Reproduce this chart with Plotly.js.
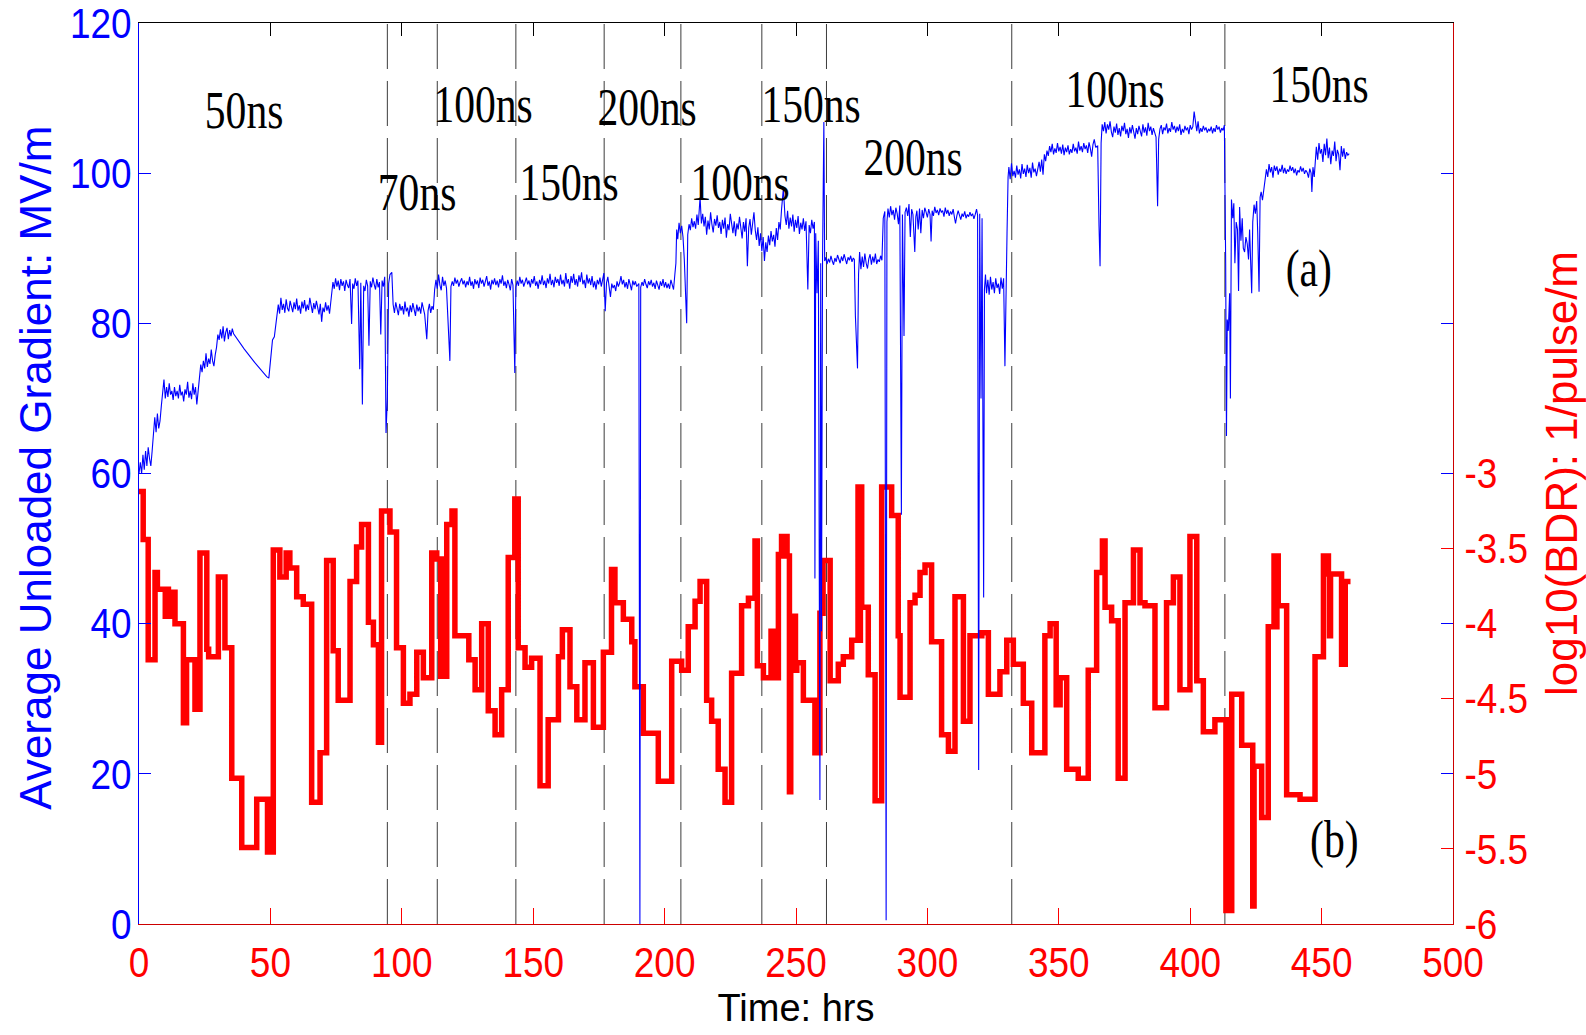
<!DOCTYPE html>
<html><head><meta charset="utf-8">
<script src="https://cdn.plot.ly/plotly-3.0.1.min.js"></script>
<style>
html,body{margin:0;padding:0;background:#fff;}
#chart{width:1586px;height:1035px;}
</style></head><body><div id="chart"></div><script>
// [time (hrs), average unloaded gradient (MV/m)]
const gradientSamples = [
[0,60],[0.5,61.5],[1,60],[1.5,62.5],[2,60.5],[2.5,63],[3,61],[3.5,63.5],[4,62],[4.5,61],[5,63],[5.5,66],[6,67.5],[6.5,65.5],[7,68],[7.5,66],[8,67],[8.5,69],[9,70.5],
[9.5,72.5],[10,70],[10.5,71.5],[11,70.2],[11.5,72],[12,70.5],[12.5,71],[13,69.8],[13.5,71.5],[14,70.3],[14.5,71],[15,70],[15.5,71.8],[16,70.4],[16.5,70.9],[17,69.6],[17.5,71.2],[18,70.5],[18.5,72.2],[19,70.1],[19.5,71],[20,69.9],[20.5,72],[21,70.5],[21.5,71.5],[22,69.2],[22.5,70.8],[23,72.8],
[23.5,74.5],[24,73.5],[24.5,75],[25,74],[25.5,76],[26,74.2],[26.5,75.3],[27,74.6],[27.5,76.5],[28,75],[28.5,74.3],[29,75.8],[29.5,76.8],[30,78.5],
[30.5,77.8],[31,79.2],[31.5,78],[32,79.6],[32.5,77.6],[33,78.8],[33.5,79.4],[34,77.9],[34.5,79.1],[35,78.3],[35.5,79.3],[36,78.6],
[40,76.6],[44,74.8],[47,73.5],[48.6,72.9],[49.4,72.7],[50.3,76.5],[50.8,77.8],[51.5,78.2],[52.2,80],[52.6,81],
[53,82.5],[53.5,81.3],[54,83.4],[54.5,81.8],[55,82.6],[55.5,81.4],[56,83.2],[56.5,82],[57,81.6],[57.5,83],[58,82.1],[58.5,81.5],[59,82.8],[59.5,81.9],[60,83.3],[60.5,81.7],[61,82.4],[61.5,81.3],[62,82.9],[62.5,82],[63,83.1],[63.5,81.6],[64,82.5],[64.5,81.8],[65,83.4],[65.5,82.2],[66,81.4],[66.5,82.7],[67,81.9],[67.5,83],[68,82.3],[68.5,81.2],[69,82.6],[69.5,80.2],[70,82.1],[70.5,81.5],[71,82.8],[71.5,81.7],[72,82.4],[72.5,81.3],[73,82.9],
[73.8,85.5],[74.3,84.6],[74.8,86],[75.3,84.9],[75.8,85.7],[76.3,84.4],[76.8,85.9],[77.3,85],[77.8,85.6],[78.3,84.3],[78.8,85.8],[79.3,85.1],[79.8,84.7],[80.3,85.9],[80.9,79.9],[81.3,85.3],[81.8,84.6],[82.3,86],[82.8,85],[83.3,85.7],[84,73.9],[84.4,85.4],[85,69.2],[85.5,85],[86,84.3],[86.5,85.8],[87,85],[87.5,77],[88,85.6],[88.5,84.8],[89,86.1],[89.5,85.2],[90,84.5],[90.5,85.9],[91,84.8],[91.5,85.5],[92,78.5],[92.5,85.7],[93,84.9],[93.5,86.2],[94,65.4],[94.5,70],[95,85.3],[95.5,86.5],[96.2,86.8],
[96.7,82.5],[97.2,81.4],[97.7,82.8],[98.2,81.9],[98.7,81.1],[99.2,82.6],[99.7,81.7],[100.2,82.3],[100.7,81.2],[101.2,82.9],[101.7,81.6],[102.2,82.1],[102.7,80.9],[103.2,82.4],[103.7,81.5],[104.2,82.7],[104.7,81.8],[105.2,81],[105.7,82.5],[106.2,81.6],[106.7,82.2],[107.2,81.3],[107.7,82.8],[108.2,81.9],[108.7,81.2],[109.5,77.9],[110,81.7],[110.5,82.6],[111,81.4],[111.5,82.3],[112,81.8],[112.5,84.5],
[113,85.8],[113.5,84.6],[114,86.5],[114.5,85.1],[115,84.4],[115.5,86.2],[116,85],[116.5,85.7],[117,84.7],[118.3,75],[118.7,84.9],[119.2,85.6],[119.7,85],[120.2,86.1],[120.7,85.3],[121.2,85.8],[121.7,84.9],[122.2,85.5],[122.8,86],[123.3,85.2],[123.8,85.7],[124.3,84.8],[124.8,85.6],[125.3,85.1],[125.8,86.2],[126.3,85],[126.8,85.6],[127.3,84.6],[127.8,85.9],[128.3,85.2],[128.8,85.7],[129.3,84.7],[129.8,86.1],[130.3,85.3],[130.8,85.8],[131.3,84.9],[131.8,85.5],[132.3,86.3],[132.8,85],[133.3,85.6],[133.8,84.5],[134.3,85.8],[134.8,85.2],[135.3,86],[135.8,85.1],[136.3,85.7],[136.8,84.8],[137.3,85.9],[137.8,85.3],[138.3,86.4],[138.8,85],[139.3,85.6],[139.8,84.7],[140.3,85.8],[140.8,85.2],[141.3,84.4],[141.8,85.9],[142.3,85.1],[143,73.4],[143.4,84.8],[143.9,85.7],[144.4,85],[144.9,86.2],[145.4,85.3],[145.9,85.8],[146.4,84.9],[146.9,85.5],[147.4,86.1],[147.9,85.2],[148.4,85.7],[148.9,84.8],[149.4,85.9],[149.9,85.3],[150.4,86.3],[150.9,85],[151.4,85.6],[151.9,84.6],[152.4,85.8],[152.9,85.2],[153.4,86.4],[153.9,85.1],[154.4,85.7],[154.9,84.7],[155.4,86],[155.9,85.3],[156.4,86.6],[156.9,85.1],[157.4,85.8],[157.9,84.8],[158.4,86.2],[158.9,85.4],[159.4,85.9],[159.9,85],[160.4,86.5],[160.9,85.2],[161.4,85.8],[161.9,84.9],[162.4,86.7],[162.9,85.3],[163.4,85.9],[163.9,84.6],[164.4,86.3],[164.9,85.4],[165.4,86.6],[165.9,85.1],[166.4,85.9],[166.9,84.9],[167.4,86.4],[167.9,85.5],[168.4,86.8],[168.9,85.2],[169.4,85.8],[169.9,84.7],[170.4,86.5],[170.9,85.3],[171.4,86],[171.9,85.1],[172.4,86.3],[172.9,84.8],[173.4,85.6],[173.9,84.5],[174.4,85.8],[174.9,85.2],[175.4,86.1],[175.9,84.9],[176.4,85.6],[176.9,86.7],[177.4,81.6],[177.9,85.4],[178.4,86.2],[178.9,84.6],[179.4,83.5],[179.9,85.3],[180.4,84.7],[180.9,85.1],[181.4,84.3],[181.9,85.6],[182.4,84.9],[182.9,85.4],[183.4,86.3],[183.9,85.2],[184.4,85.8],[184.9,84.8],[185.4,85.5],[185.9,84.6],[186.4,85.9],[186.9,85.2],[187.4,84.4],[187.9,85.7],[188.4,85.1],[188.9,85.6],[189.4,84.9],[190.2,85.3],[190.6,0],[190.9,84.8],[191.4,85.5],[191.9,85],[192.4,85.9],[192.9,85.2],[193.4,84.7],[193.9,85.6],[194.4,85.1],[194.9,85.8],[195.4,84.9],[195.9,85.4],[196.4,84.6],[196.9,85.7],[197.4,85.1],[197.9,84.5],[198.4,85.6],[198.9,85],[199.4,85.9],[199.9,84.8],[200.4,85.5],[200.9,84.7],[201.4,85.3],[201.9,84.6],[202.4,85.8],[202.9,85.1],[203.4,84.5],[203.9,86.5],[204.3,88],
[204.6,92.5],[205,91.2],[205.5,93.4],[206,92],[206.5,93],[207,91.5],[207.5,88.5],[208,84],[208.4,80],[208.8,91.8],[209.3,93.2],[209.8,92.4],[210.3,94],[210.8,92.8],[211.3,93.6],[211.8,92.6],[212.3,94.5],[212.8,93.1],[213.5,96.8],[214,93.3],[214.5,94.6],[215,92.9],[215.5,94.2],[216,91.8],[216.5,93.7],[217,92.5],[217.5,94.8],[218,93.2],[218.5,92.1],[219,93.9],[219.5,93],[220,94.4],[220.5,92.7],[221,93.5],[221.5,91.9],[222,93.8],[222.5,92.6],[223,94.1],[223.5,91.4],[224,93.2],[224.5,92.4],[225,94.6],[225.5,93],[226,92],[226.5,93.6],[227,91.6],[227.5,93.3],[228,92.5],[228.5,94.2],[229,92.8],[229.5,91.3],[230,93.5],[230.5,92.2],[231,94],[231.5,87.6],[232,92.7],[232.5,93.9],[233,91.8],[233.5,93],[234,94.8],[234.5,92.4],[235,91.1],[235.5,92.8],[236,90.3],[236.5,92],[237,89.6],[237.5,91.5],[238,88.3],[238.5,90.8],[239,89.5],[239.5,91.7],[240,90.4],[240.5,92.3],[241,90.9],[241.5,91.8],[242,90.2],[242.5,92.7],[243,91.1],[243.5,93.5],[244,92.5],[244.5,95.2],[245.2,98],[245.8,94.3],[246.3,93.1],[246.8,95],[247.3,92.6],[247.8,94.1],[248.3,92.9],[248.8,94.5],[249.3,92.2],[249.8,93.8],[250.3,92.7],[250.8,94.3],[251.3,91.9],[251.8,93.4],[252.3,92.5],[252.8,94],[253.3,92.3],[253.8,93.6],[254.5,84.5],[255,93.1],[255.5,92],[256,93.8],[256.5,92.6],[257,93.5],[257.2,46],[257.5,92],[258,84],[258.5,91],[259.1,16.5],[259.4,88],[259.7,39],[260.1,88.5],[260.6,106.8],[260.9,88.3],
[261.3,88.8],[261.8,87.9],[262.3,88.6],[262.8,88.1],[263.3,89],[263.8,88.3],[264.3,87.8],[264.8,88.7],[265.3,88.2],[265.8,89.1],[266.3,88.4],[266.8,88],[267.3,88.9],[267.8,88.3],[268.3,89.2],[268.8,88.5],[269.3,87.9],[269.8,88.8],[270.3,88.4],[270.8,89],[271.3,88.2],[271.8,88.7],[272.2,88.5],[272.6,81],[273,77],[273.4,74],[273.8,86.5],[274.2,89.5],[274.7,87.2],[275.2,88.9],[275.7,87.5],[276.2,89.3],[276.7,88],[277.2,87.3],[277.7,88.6],[278.2,89.2],[278.7,87.8],[279.2,88.9],[279.7,88.1],[280.2,89.3],[280.7,87.9],[281.2,88.5],[281.7,88.2],[282.2,89],[282.7,88.4],[283.2,94],[283.8,94.9],
[284.3,0.5],[284.6,93.5],[285,95.3],[285.5,94.1],[286,95.6],[286.5,94.4],[287,95.1],[287.5,93.8],[288,95.4],[288.5,94.6],[289,93.2],[289.5,95.7],[290.1,54.5],[290.5,94.5],[291.1,78.3],[291.5,94.8],[292,95.4],[292.5,94.3],[293,95.9],[293.5,91.5],[294,95.2],[294.5,94.5],[295.2,89.5],[295.6,94.2],[296,95],[296.5,92.5],[297,95.3],[297.5,92],[298,95.1],[298.5,94],[299,95.4],[299.5,94.8],[300,94.1],[300.5,95.2],[301,94.5],[301.4,90.9],[301.8,95],[302.3,94.3],[302.8,95.5],[303.3,94.7],[303.8,95.1],[304.3,94.4],[304.8,95.3],[305.3,94.8],[305.8,95],[306.3,94.2],[306.8,95.4],[307.3,94.6],[307.8,95.1],[308.3,94.3],[308.8,94.9],[309.3,94.5],[309.8,95.2],[310.3,94.1],[310.7,93.3],[311.2,94.3],[311.7,95],[312.2,94.4],[312.7,93.8],[313.2,94.6],[313.7,94.2],[314.2,94.9],[314.7,94],[315.2,94.5],[315.7,94.2],[316.2,94.8],[316.7,94.3],[317.2,94.6],[317.7,93.9],[318.2,94.5],[318.7,95.2],[319.1,94.4],[319.5,20.5],[319.9,94.6],[320.4,70],[320.8,94],[321.4,43.5],[321.7,84.5],
[322.1,86.5],[322.5,84],[323,85.8],[323.5,83.8],[324,86.2],[324.5,84.5],[325,85.5],[325.5,84],[326,86],[326.5,84.7],[327,85.3],[327.5,83.9],[328,86.1],[328.5,84.6],[329,86],[329.5,74.3],[329.9,88],[330.3,92],[330.7,99.5],
[331,100.8],[331.5,99.2],[332,101.3],[332.5,99.6],[333,100.3],[333.5,99.4],[334,101],[334.5,99.8],[335,100.5],[335.5,99.3],[336,101.2],[336.5,99.9],[337,100.6],[337.5,99.5],[338,101.1],[338.5,100],[339,100.7],[339.5,99.4],[340,101.4],[340.5,100.1],[341,100.6],[341.5,99.6],[342,100.9],[342.5,101.5],[343,100.2],[343.5,101.8],[344,99.8],[344.5,102.5],[345,101.6],[345.5,103],
[346,102.3],[346.5,103.6],[347,102.8],[347.5,103.9],[348,102.5],[348.5,103.3],[349,102.7],[349.5,104],[350,102.9],[350.5,103.5],[351,102.6],[351.5,103.8],[352,102.4],[352.5,103.4],[353,102.8],[353.5,103.7],[354,102.5],[354.5,103.2],[355,102.7],[355.5,103.9],[356,102.9],[356.5,103.4],[357,102.6],[357.5,104.2],[358,103],[358.5,103.6],[359,102.8],[359.5,104],[360,103.2],[360.5,103.7],[361,102.7],[361.5,104.1],[362,103.3],[362.5,102.2],[363,103.8],[363.5,104.5],[364,103.5],[364.8,103.6],[365.3,93],[365.7,87.6],[366.1,104],[366.5,106.5],
[367,105.6],[367.5,106.8],[368,105.3],[368.5,106.5],[369,105.8],[369.5,106.9],[370,105.5],[370.5,104.8],[371,106.2],[371.5,105.4],[372,106.6],[372.5,105.1],[373,106],[373.5,104.9],[374,106.3],[374.5,105.6],[375,106.7],[375.5,105.2],[376,105.9],[376.5,104.7],[377,106.1],[377.5,105.3],[378,106.4],[378.5,105.5],[379,104.6],[379.5,106],[380,105.2],[380.5,106.3],[381,105.7],[381.5,104.9],[382,106.5],[382.5,105.4],[383,106.1],[383.5,105],[384,106.7],[384.5,105.6],[385,106.2],[385.5,105.1],[386,106],[386.5,105.5],[387,104.8],[387.6,95.6],[388,104.5],[388.5,105.9],[389,106.4],[389.5,105.2],[390,106.1],[390.5,105.7],[391,106.6],[391.5,105.3],[392,106],[392.5,105.5],[393,106.8],[393.5,105.8],[394,106.3],[394.5,105.4],[395,106.2],[395.5,105.6],[396,106.5],[396.5,105.1],[397,105.9],[397.5,105.4],[398,106.3],[398.5,105.7],[399,106.1],[399.5,105.2],[400,106.4],[400.5,105.8],[401,106.2],[401.5,108.2],[402,106.5],[402.5,105.6],[403,106.9],[403.5,105.3],[404,106],[404.5,105.5],[405,106.3],[405.5,105.7],[406,106.1],[406.5,105.4],[407,105.9],[407.5,105.6],[408,106.2],[408.5,105.3],[409,106],[409.5,105.5],[410,106.4],[410.5,105.8],[411,106.2],[411.5,105.4],[412,106],[412.5,105.7],[413,106.4],
[413.5,88],[413.8,65],[414.1,80.5],[414.5,79],[415,84],[415.3,70],[415.7,96.5],[416.2,94],[416.6,96],[417,88],[417.5,93.5],[418,92.5],[418.4,84.3],[418.8,95.5],[419.3,91],[419.8,94],[420.2,90],[420.7,89.5],[421.2,91.5],[421.7,90.6],[422.2,88.5],[422.6,92.5],[423,86],[423.4,84],[423.8,93.5],[424.3,95.8],[424.8,94.6],[425.3,96.3],[425.7,92],[426.2,84.2],[426.6,96.8],[427,97.5],[427.5,96.4],[428,98],[428.5,99.2],[429,100.5],[429.5,99.5],[430,101.2],[430.5,100.1],[431,100.8],[431.5,99.4],[432,101],[432.5,100.3],[433,100.9],[433.5,99.8],[434,100.6],[434.5,100.2],[435,101.1],[435.5,100],[436,100.7],[436.5,99.9],[437,100.5],[437.5,100.2],[438,101],[438.5,100.3],[439,100.8],[439.5,100],[440,100.6],[440.5,99.7],[441,100.4],[441.5,100.1],[442,100.9],[442.5,100.2],[443,100.7],[443.5,99.9],[444,100.4],[444.5,100.1],[445,99.4],[445.5,100.6],[446,100],[446.3,97.5],[446.7,100.8],[447.2,99.5],[447.6,102.5],[448,103.5],[448.5,101.8],[449,104],[449.5,102.6],[450,103.2],[450.5,101.5],[451,103.9],[451.5,102.4],[452,104.6],[452.5,102],[453,103.4],[453.5,101.2],[454,103],[454.5,102.3],[455,104.2],[455.5,101.6],[456,103.1],[456.5,102.5],[457,100.4],[457.5,103.6],[458,102.2],[458.5,103.3],[459,101.9],[459.5,102.8],[460,102.4],[460.5,102.6]
];

// [time (hrs), log10(BDR)] — each value holds until the next time
const bdrSteps = [
[0,-3.12],[1.6,-3.44],[3.5,-4.24],[6.1,-3.66],[7.0,-3.77],[10.0,-3.95],[10.6,-3.77],[11.2,-3.95],[11.8,-3.79],[13.7,-4.0],[16.9,-4.66],[18.1,-4.24],[21.3,-4.57],[21.8,-4.24],[22.2,-4.57],[23.2,-3.53],[25.8,-4.17],[26.5,-4.22],[30.2,-3.69],[32.7,-4.16],[35.3,-5.03],[39.1,-5.49],[44.8,-5.17],[48.9,-5.52],[49.5,-5.17],[50.0,-5.52],[51.1,-3.51],[53.6,-3.69],[56.0,-3.53],[56.6,-3.63],[57.0,-3.53],[57.4,-3.63],[60.0,-3.82],[62.5,-3.87],[65.7,-5.19],[68.9,-4.86],[71.4,-3.58],[73.9,-4.18],[75.8,-4.51],[80.3,-3.72],[82.8,-3.49],[84.7,-3.34],[87.3,-3.99],[89.2,-4.14],[91.1,-4.79],[92.3,-3.25],[95.5,-3.39],[98.0,-4.16],[100.6,-4.53],[103.1,-4.47],[105.7,-4.19],[108.2,-4.36],[111.4,-3.53],[113.3,-3.57],[114.8,-4.35],[115.3,-3.57],[115.8,-4.35],[117.1,-3.34],[119.1,-3.25],[120.2,-4.08],[125.5,-4.24],[127.9,-4.44],[130.4,-4.0],[132.9,-4.58],[135.5,-4.74],[138.0,-4.44],[140.5,-3.56],[143.0,-3.17],[143.6,-3.56],[143.9,-3.17],[144.3,-4.16],[146.9,-4.29],[149.4,-4.23],[152.6,-5.08],[155.7,-4.64],[159.6,-4.22],[161.1,-4.04],[164.0,-4.42],[166.6,-4.64],[169.7,-4.26],[172.9,-4.69],[176.7,-4.19],[179.8,-3.64],[180.4,-3.86],[180.7,-3.64],[181.1,-3.86],[184.3,-3.97],[187.5,-4.12],[188.7,-4.42],[191.9,-4.73],[197.6,-5.05],[202.7,-4.25],[206.5,-4.31],[209.0,-4.02],[211.6,-3.85],[213.5,-3.72],[216.0,-4.51],[217.9,-4.65],[220.4,-4.97],[223.0,-5.19],[225.5,-4.33],[229.3,-3.88],[231.9,-3.83],[234.4,-3.45],[234.7,-3.83],[235.0,-3.45],[235.3,-4.28],[237.6,-4.36],[240.5,-4.05],[241.0,-4.36],[241.5,-4.05],[242.0,-4.36],[243.3,-3.54],[244.5,-3.42],[245.4,-3.55],[246.0,-3.42],[246.6,-3.55],[247.5,-5.12],[248.0,-3.95],[248.6,-4.31],[249.2,-3.95],[249.8,-4.31],[250.3,-4.26],[252.8,-4.51],[257.2,-4.86],[257.6,-4.51],[258.0,-4.86],[259.1,-3.93],[260.3,-3.58],[263.0,-4.38],[266.1,-4.27],[268.0,-4.22],[271.2,-4.11],[273.6,-3.09],[274.1,-4.11],[274.5,-3.09],[275.0,-3.89],[277.5,-4.34],[280.1,-5.18],[282.6,-3.09],[286.4,-3.28],[288.9,-4.08],[289.6,-4.49],[293.4,-3.86],[295.3,-3.81],[297.2,-3.66],[299.1,-3.61],[301.6,-4.12],[305.4,-4.74],[308.0,-4.85],[310.5,-3.82],[313.7,-4.65],[316.2,-4.08],[320.7,-4.06],[323.2,-4.47],[327.6,-4.32],[330.2,-4.11],[332.7,-4.27],[336.5,-4.53],[339.7,-4.86],[344.7,-4.08],[346.7,-4.0],[349.0,-4.54],[350.5,-4.36],[353.0,-4.97],[357.4,-5.03],[361.2,-4.31],[364.4,-3.66],[366.6,-3.45],[367.0,-3.66],[367.3,-3.45],[367.6,-3.89],[370.1,-3.98],[372.6,-5.03],[375.2,-3.86],[378.4,-3.51],[380.9,-3.86],[382.8,-3.88],[386.6,-4.56],[391.0,-3.86],[393.6,-3.69],[396.1,-4.44],[399.9,-3.42],[402.5,-4.38],[405.0,-4.72],[409.4,-4.64],[413.6,-5.91],[414.1,-4.64],[414.6,-5.91],[415.8,-4.47],[419.6,-4.81],[423.8,-5.88],[424.3,-4.95],[427.2,-5.29],[429.7,-4.02],[431.9,-3.55],[432.5,-4.02],[433.0,-3.55],[433.5,-3.88],[436.7,-5.14],[441.8,-5.17],[447.5,-4.22],[450.7,-3.55],[452.6,-3.67],[453.0,-4.08],[453.4,-3.67],[457.6,-4.27],[458.1,-3.72],[458.5,-4.27],[459.0,-3.72],[461.0,-3.72]
];

// hours at which the pulse length was changed
const pulseChangeTimes = [94.5, 113.5, 143.4, 177.0, 206.2, 237.0, 261.6, 332.1, 413.2];
const pulseLabelText = ['50ns','70ns','100ns','150ns','200ns','100ns','150ns','200ns','100ns','150ns'];
const pulseLabelTime = [39.8, 105.6, 131.0, 163.7, 193.3, 228.7, 255.6, 294.4, 371.3, 449.0];
const pulseLabelGrad = [108.4, 97.4, 109.1, 98.7, 108.8, 98.7, 109.1, 102.1, 111.2, 111.8];

const timeTicks = [0,50,100,150,200,250,300,350,400,450,500];
const gradTicks = [0,20,40,60,80,100,120];
const bdrTicks = [-6,-5.5,-5,-4.5,-4,-3.5,-3];
const bdrTickText = ['-6','-5.5','-5','-4.5','-4','-3.5','-3'];

const SANS = 'Liberation Sans, Arial, sans-serif';
const SERIF = 'Liberation Serif, Times New Roman, serif';

const traces = [
  {x: bdrSteps.map(p=>p[0]), y: bdrSteps.map(p=>p[1]), type:'scatter', mode:'lines',
   line:{color:'#ff0000', width:5.5, shape:'hv'}, xaxis:'x', yaxis:'y', hoverinfo:'skip', showlegend:false},
  {x: gradientSamples.map(p=>p[0]), y: gradientSamples.map(p=>p[1]), type:'scatter', mode:'lines',
   line:{color:'#0000ff', width:1.1}, xaxis:'x', yaxis:'y2', hoverinfo:'skip', showlegend:false},
  {x:[0], y:[-100], type:'scatter', mode:'lines', xaxis:'x2', yaxis:'y3', hoverinfo:'skip', showlegend:false}
];

const shapes = pulseChangeTimes.map(t => ({type:'line', xref:'x', yref:'paper', x0:t, x1:t, y0:0, y1:1,
  line:{color:'#3c3c3c', width:1, dash:'45px,12px'}, layer:'below'}));

const annotations = [
  {text:'Average Unloaded Gradient: MV/m', xref:'paper', yref:'paper', x:-0.0788, y:0.507, xanchor:'center', yanchor:'middle',
   textangle:-90, showarrow:false, font:{family:SANS, size:44, color:'#0000ff'}}
];
pulseLabelText.forEach((s,i) => annotations.push({text:s, x:pulseLabelTime[i], y:pulseLabelGrad[i], xref:'x', yref:'y2',
  showarrow:false, font:{family:SERIF, size:52, color:'#000'}}));
annotations.push({text:'(a)', x:445.2, y:87.3, xref:'x', yref:'y2', showarrow:false, font:{family:SERIF, size:52, color:'#000'}});
annotations.push({text:'(b)', x:454.8, y:11.2, xref:'x', yref:'y2', showarrow:false, font:{family:SERIF, size:52, color:'#000'}});

const layout = {
  width:1586, height:1035, paper_bgcolor:'#fff', plot_bgcolor:'#fff',
  margin:{l:139, r:133, t:23, b:111}, showlegend:false,
  xaxis:{range:[0,500], tickvals:timeTicks, ticks:'inside', ticklen:16, tickwidth:1, tickcolor:'#ff0000',
    tickfont:{family:SANS, size:42, color:'#ff0000'}, ticklabelstandoff:2, ticklabeloverflow:'allow',
    showline:true, linecolor:'#cc0000', linewidth:1, showgrid:false, zeroline:false, automargin:false,
    title:{text:'Time: hrs', font:{family:SANS, size:38, color:'#000'}, standoff:8}},
  xaxis2:{overlaying:'x', side:'top', range:[0,500], tickvals:timeTicks, ticks:'inside', ticklen:13, tickcolor:'#000',
    showticklabels:false, showline:true, linecolor:'#000', linewidth:1, showgrid:false, zeroline:false, automargin:false},
  yaxis:{side:'right', range:[-6,0], tickvals:bdrTicks, ticktext:bdrTickText, ticks:'inside', ticklen:12, tickcolor:'#ff0000',
    tickfont:{family:SANS, size:42, color:'#ff0000'}, ticklabelstandoff:2, ticklabeloverflow:'allow',
    showline:true, linecolor:'#cc0000', linewidth:1, showgrid:false, zeroline:false, automargin:false,
    title:{text:'log10(BDR): 1/pulse/m', font:{family:SANS, size:44, color:'#ff0000'}, standoff:8}},
  yaxis2:{overlaying:'y', side:'left', range:[0,120], tickvals:gradTicks, ticks:'inside', ticklen:12, tickcolor:'#0000ff',
    tickfont:{family:SANS, size:42, color:'#0000ff'}, ticklabelstandoff:-2, ticklabeloverflow:'allow',
    showline:true, linecolor:'#0000ff', linewidth:1, showgrid:false, zeroline:false, automargin:false},
  yaxis3:{overlaying:'y', side:'right', range:[0,120], tickvals:gradTicks, ticks:'inside', ticklen:12, tickcolor:'#0000ff',
    showticklabels:false, showline:false, showgrid:false, zeroline:false, automargin:false},
  shapes: shapes,
  annotations: annotations
};

Plotly.newPlot('chart', traces, layout, {staticPlot:true, displayModeBar:false}).then(gd => {
  // narrow the tick labels horizontally, keeping their anchor point fixed
  gd.querySelectorAll('g.xtick text, g.ytick text, g.y2tick text').forEach(t => {
    const ax = parseFloat(t.getAttribute('x')) || 0;
    const tr = t.getAttribute('transform') || '';
    t.setAttribute('transform', tr + ' translate(' + ax + ',0) scale(0.88,1) translate(' + (-ax) + ',0)');
  });
  // narrow the in-plot serif labels
  gd.querySelectorAll('g.annotation').forEach(g => {
    if (g.getAttribute('data-index') === '0') return;
    const t = g.querySelector('text.annotation-text');
    if (!t) return;
    t.style.transformBox = 'fill-box';
    t.style.transformOrigin = 'center';
    t.style.transform = 'scaleX(0.8)';
  });
});
</script></body></html>
